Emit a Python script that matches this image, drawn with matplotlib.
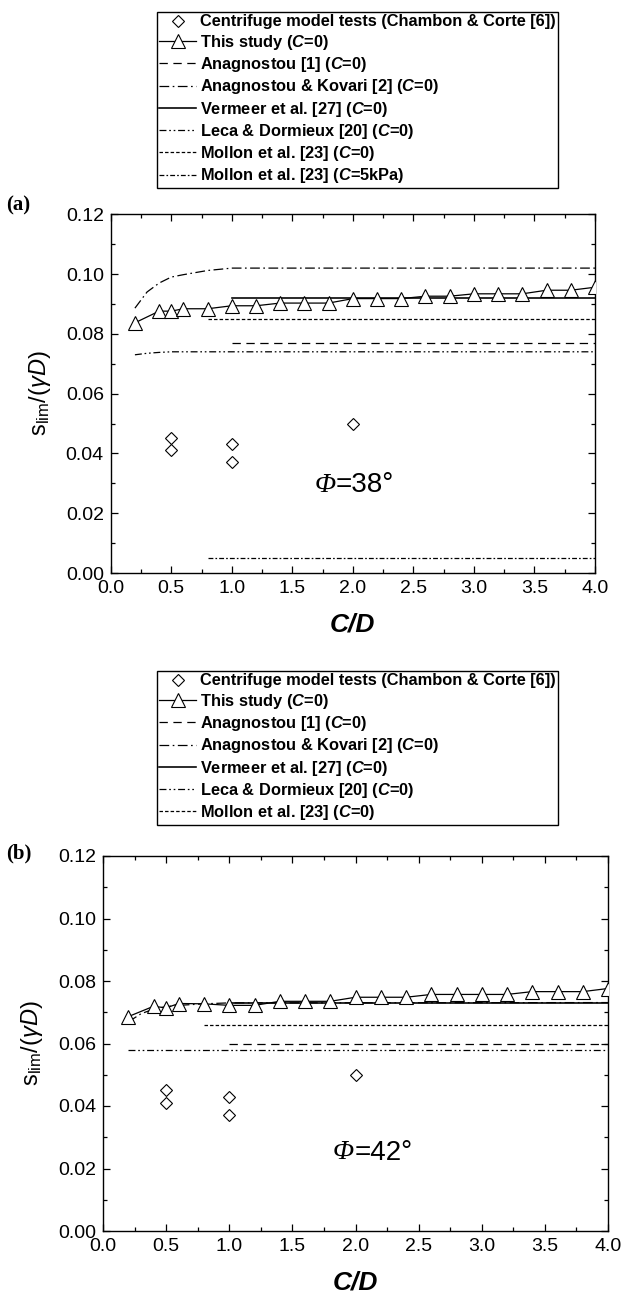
import matplotlib
matplotlib.use('Agg')
import matplotlib.pyplot as plt
from matplotlib.ticker import MultipleLocator

plt.rcParams['font.family'] = ['Liberation Sans', 'DejaVu Sans']
plt.rcParams['mathtext.fontset'] = 'custom'
plt.rcParams['mathtext.rm'] = 'Liberation Sans'
plt.rcParams['mathtext.it'] = 'Liberation Sans:italic'
plt.rcParams['mathtext.bf'] = 'Liberation Sans:bold'
plt.rcParams['mathtext.bfit'] = 'Liberation Sans:italic:bold'
plt.rcParams['lines.scale_dashes'] = False

# centrifuge tests (same in both panels)
cd_tests = [0.5, 0.5, 1.0, 1.0, 2.0]
s_tests = [0.045, 0.041, 0.043, 0.037, 0.050]

# this study
cd_study = [0.2, 0.4, 0.5, 0.6, 0.8, 1.0, 1.2, 1.4, 1.6, 1.8, 2.0,
            2.2, 2.4, 2.6, 2.8, 3.0, 3.2, 3.4, 3.6, 3.8, 4.0]
s_study_38 = [0.0837, 0.0876, 0.0876, 0.0884, 0.0884, 0.0894, 0.0894, 0.0903,
              0.0903, 0.0903, 0.0918, 0.0918, 0.0918, 0.0926, 0.0926, 0.0934,
              0.0934, 0.0934, 0.0946, 0.0946, 0.0956]
s_study_42 = [0.0686, 0.0719, 0.0714, 0.0728, 0.0727, 0.0722, 0.0722, 0.0735,
              0.0735, 0.0735, 0.0748, 0.0748, 0.0748, 0.0757, 0.0757, 0.0757,
              0.0757, 0.0766, 0.0766, 0.0766, 0.0776]

# Anagnostou [1]
cd_anag = [1.0, 4.0]
s_anag_38 = [0.077, 0.077]
s_anag_42 = [0.060, 0.060]

# Anagnostou & Kovari [2]
cd_ak = [0.2, 0.3, 0.4, 0.5, 0.6, 0.8, 1.0, 4.0]
s_ak_38 = [0.0886, 0.094, 0.097, 0.099, 0.0998, 0.1012, 0.102, 0.102]
s_ak_42 = [0.0669, 0.0695, 0.0710, 0.0718, 0.0722, 0.0727, 0.0730, 0.0731]

# Vermeer et al. [27]
cd_verm = [1.0, 4.0]
s_verm_38 = [0.092, 0.092]
s_verm_42 = [0.073, 0.073]

# Leca & Dormieux [20]
cd_leca_38 = [0.2, 0.3, 0.4, 0.5, 4.0]
s_leca_38 = [0.073, 0.0735, 0.0738, 0.074, 0.074]
cd_leca_42 = [0.2, 4.0]
s_leca_42 = [0.058, 0.058]

# Mollon et al. [23]
cd_mollon = [0.8, 4.0]
s_mollon_38 = [0.085, 0.085]
s_mollon_42 = [0.066, 0.066]
s_mollon5_38 = [0.005, 0.005]

lbl_tests = 'Centrifuge model tests (Chambon & Corte [6])'
lbl_study = r'This study ($\mathbfit{C}$=0)'
lbl_anag = r'Anagnostou [1] ($\mathbfit{C}$=0)'
lbl_ak = r'Anagnostou & Kovari [2] ($\mathbfit{C}$=0)'
lbl_verm = r'Vermeer et al. [27] ($\mathbfit{C}$=0)'
lbl_leca = r'Leca & Dormieux [20] ($\mathbfit{C}$=0)'
lbl_mollon = r'Mollon et al. [23] ($\mathbfit{C}$=0)'
lbl_mollon5 = r'Mollon et al. [23] ($\mathbfit{C}$=5kPa)'

ls_anag = (0, (6, 4))
ls_ak = (0, (7, 2.5, 1.2, 2.5))
ls_leca = (0, (5, 2, 1.2, 2, 1.2, 2))
ls_mollon = (0, (2.5, 1.5))
ls_mollon5 = (0, (3.5, 1.5, 1.2, 1.5))

W, H = 622, 1292
fig = plt.figure(figsize=(W / 100, H / 100), dpi=100)


def px_axes(l, t, r, b):
    return fig.add_axes([l / W, 1 - b / H, (r - l) / W, (b - t) / H])


def draw_panel(ax, s_study, s_anag, s_ak, s_verm, cd_leca, s_leca, s_mollon,
               s_mollon5, phi_val, phi_xy, leg_top):
    lw = 0.9
    h_tests, = ax.plot(cd_tests, s_tests, ls='none', marker='D', ms=6.5,
                       mfc='white', mec='black', mew=0.8, zorder=5)
    h_study, = ax.plot(cd_study, s_study, color='black', lw=lw, marker='^',
                       ms=10, mfc='white', mec='black', mew=0.8, zorder=4)
    h_anag, = ax.plot(cd_anag, s_anag, color='black', lw=lw, ls=ls_anag)
    h_ak, = ax.plot(cd_ak, s_ak, color='black', lw=lw, ls=ls_ak)
    h_verm, = ax.plot(cd_verm, s_verm, color='black', lw=lw * 1.3)
    h_leca, = ax.plot(cd_leca, s_leca, color='black', lw=lw, ls=ls_leca)
    h_mollon, = ax.plot(cd_mollon, s_mollon, color='black', lw=lw, ls=ls_mollon)
    handles = [h_tests, h_study, h_anag, h_ak, h_verm, h_leca, h_mollon]
    labels = [lbl_tests, lbl_study, lbl_anag, lbl_ak, lbl_verm, lbl_leca, lbl_mollon]
    if s_mollon5 is not None:
        h_m5, = ax.plot(cd_mollon, s_mollon5, color='black', lw=lw, ls=ls_mollon5)
        handles.append(h_m5)
        labels.append(lbl_mollon5)

    ax.set_xlim(0, 4.0)
    ax.set_ylim(0, 0.12)
    ax.xaxis.set_major_locator(MultipleLocator(0.5))
    ax.xaxis.set_minor_locator(MultipleLocator(0.25))
    ax.yaxis.set_major_locator(MultipleLocator(0.02))
    ax.yaxis.set_minor_locator(MultipleLocator(0.01))
    ax.xaxis.set_major_formatter(plt.FormatStrFormatter('%.1f'))
    ax.yaxis.set_major_formatter(plt.FormatStrFormatter('%.2f'))
    ax.tick_params(which='both', direction='in', top=True, right=True,
                   width=0.9, labelsize=14)
    ax.tick_params(which='major', length=5)
    ax.tick_params(which='minor', length=3)
    ax.tick_params(axis='x', pad=5)
    ax.tick_params(axis='y', pad=5)
    for sp in ax.spines.values():
        sp.set_linewidth(1.0)
    ax.set_xlabel('C/D', fontsize=19, fontweight='bold', fontstyle='italic',
                  labelpad=11)
    ax.set_ylabel(r'$\mathrm{s_{lim}}/(\gamma\mathit{D})$', fontsize=17,
                  labelpad=9)

    # phi annotation: italic serif symbol followed by the value
    px, py = phi_xy
    ax.text(px, py, 'Φ', fontsize=20, family='Liberation Serif',
            fontstyle='italic', ha='right', va='center')
    ax.text(px, py, '=%d°' % phi_val, fontsize=20, ha='left', va='center')

    leg = ax.legend(handles, labels, loc='upper left',
                    bbox_to_anchor=(157 / W, 1 - leg_top / H),
                    bbox_transform=fig.transFigure, borderaxespad=0,
                    prop={'weight': 'bold', 'size': 11.8}, frameon=True,
                    fancybox=False, edgecolor='black', framealpha=1,
                    handlelength=2.25, handletextpad=0.2, borderpad=0.15,
                    labelspacing=0.2, numpoints=1)
    leg.get_frame().set_linewidth(1.0)


ax1 = px_axes(110.7, 214.3, 595, 573)
draw_panel(ax1, s_study_38, s_anag_38, s_ak_38, s_verm_38, cd_leca_38,
           s_leca_38, s_mollon_38, s_mollon5_38, 38, (1.86, 0.0294), 12)
fig.text(6 / W, 1 - 205 / H, '(a)', fontsize=15, fontweight='bold',
         family='Liberation Serif', va='center', ha='left')

ax2 = px_axes(103, 856, 608, 1231)
draw_panel(ax2, s_study_42, s_anag_42, s_ak_42, s_verm_42, cd_leca_42,
           s_leca_42, s_mollon_42, None, 42, (1.99, 0.025), 671)
fig.text(6 / W, 1 - 853 / H, '(b)', fontsize=15, fontweight='bold',
         family='Liberation Serif', va='center', ha='left')

fig.savefig('out.png', dpi=100)
